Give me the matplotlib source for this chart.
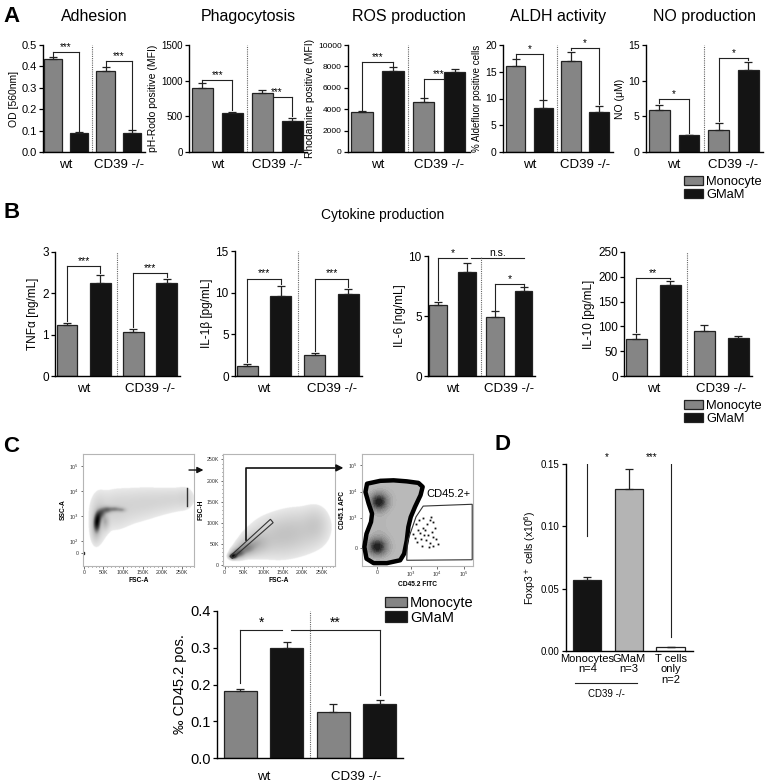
import numpy as np
import matplotlib
matplotlib.use("Agg")
import matplotlib.pyplot as plt
from matplotlib.patches import Patch, Polygon
from matplotlib.path import Path
from matplotlib.colors import LinearSegmentedColormap, PowerNorm
from matplotlib.ticker import MultipleLocator

plt.rcParams["font.family"] = ["Liberation Sans", "DejaVu Sans"]

W, H = 766, 782
MONO = "#858585"
GMAM = "#141414"
BAR_COLORS = [MONO, GMAM, MONO, GMAM]
GROUPS = ["wt", "CD39 -/-"]
SERIES = ["Monocyte", "GMaM"]

# bar order everywhere: wt Monocyte, wt GMaM, CD39-/- Monocyte, CD39-/- GMaM
# panel A
adhesion = [0.433, 0.089, 0.379, 0.089]
adhesion_err = [0.010, 0.003, 0.016, 0.012]
phago = [903, 551, 833, 435]
phago_err = [58, 10, 30, 42]
ros = [3750, 7580, 4630, 7520]
ros_err = [60, 340, 400, 250]
aldh = [16.1, 8.25, 17.1, 7.5]
aldh_err = [1.2, 1.4, 1.6, 1.1]
no_prod = [5.95, 2.35, 3.15, 11.45]
no_err = [0.7, 0.08, 0.95, 1.2]

# panel B
tnf = [1.24, 2.26, 1.06, 2.24]
tnf_err = [0.04, 0.18, 0.07, 0.10]
il1b = [1.2, 9.6, 2.55, 9.85]
il1b_err = [0.2, 1.2, 0.25, 0.65]
il6 = [5.88, 8.69, 4.93, 7.07]
il6_err = [0.3, 0.75, 0.45, 0.32]
il10 = [75, 183, 91, 77]
il10_err = [9, 9, 11, 4]

# panel C
cd452 = [0.183, 0.298, 0.125, 0.147]
cd452_err = [0.005, 0.018, 0.022, 0.011]

# panel D
foxp3_labels = ["Monocytes\nn=4", "GMaM\nn=3", "T cells\nonly\nn=2"]
foxp3 = [0.057, 0.130, 0.003]
foxp3_err = [0.002, 0.016, 0.0005]
foxp3_colors = [GMAM, "#b4b4b4", "white"]

# significance: (x1, x2, height, text, left leg, right leg)
# leg True -> from bar/error top, number -> from that value, None -> no leg
sig_adhesion = [(0, 1, 0.465, "***", True, True), (2, 3, 0.427, "***", True, True)]
sig_phago = [(0, 1, 1005, "***", True, True), (2, 3, 765, "***", True, True)]
sig_ros = [(0, 1, 8450, "***", True, True), (2, 3, 6800, "***", True, True)]
sig_aldh = [(0, 1, 18.3, "*", True, True), (2, 3, 19.4, "*", True, True)]
sig_no = [(0, 1, 7.4, "*", True, True), (2, 3, 13.2, "*", True, True)]
sig_tnf = [(0, 1, 2.65, "***", True, True), (2, 3, 2.48, "***", True, True)]
sig_il1b = [(0, 1, 11.7, "***", True, True), (2, 3, 11.7, "***", True, True)]
sig_il6 = [(0, 1, 9.8, "*", True, None), (1.15, 3, 9.8, "n.s.", None, None),
           (2, 3, 7.7, "*", True, True)]
sig_il10 = [(0, 1, 198, "**", True, True)]
sig_cd452 = [(0, 0.9, 0.349, "*", 0.205, None), (1.1, 3, 0.349, "**", None, 0.172)]
sig_foxp3 = [(0, 0.93, 0.1516, "*", 0.092, None), (1.1, 2, 0.1516, "***", None, 0.011)]

# flow plot density components: (x, y, sx, sy, weight)
fsc_ssc_blobs = [(33, 2.7, 5, 0.2, 1.0), (37, 2.95, 5, 0.15, 0.6), (45, 3.1, 6, 0.12, 0.45),
                 (58, 3.22, 8, 0.09, 0.45), (78, 3.25, 10, 0.07, 0.35), (97, 3.22, 7, 0.06, 0.22),
                 (55, 2.75, 6, 0.18, 0.2), (30, 2.45, 7, 0.3, 0.15), (38, 2.9, 12, 0.5, 0.12),
                 (75, 3.2, 28, 0.45, 0.07), (130, 3.4, 35, 0.4, 0.055), (185, 3.55, 35, 0.32, 0.05),
                 (235, 3.65, 28, 0.27, 0.045), (258, 3.7, 12, 0.25, 0.04)]
fsch_fsca_blobs = [(22, 20, 6, 4, 1.0), (35, 27, 10, 7, 0.5), (55, 38, 14, 10, 0.3),
                   (80, 50, 20, 15, 0.18), (130, 65, 40, 28, 0.1), (190, 80, 40, 30, 0.09),
                   (235, 95, 20, 25, 0.07)]
apc_fitc_blobs = [(1.79, 3.6, 0.22, 0.22, 1.0), (1.73, 1.87, 0.24, 0.22, 1.0), (1.9, 3.7, 0.45, 0.4, 0.3),
                  (1.85, 1.9, 0.45, 0.4, 0.3), (1.8, 2.75, 0.3, 0.45, 0.15)]
apc_fitc_outline = [(1.35, 4.30), (1.85, 4.41), (2.35, 4.43), (2.85, 4.39), (3.29, 4.33), (3.45, 4.18),
                    (3.37, 3.86), (3.16, 3.41), (3.0, 3.02), (2.91, 2.64), (2.85, 2.12), (2.75, 1.61),
                    (2.6, 1.36), (2.1, 1.25), (1.6, 1.25), (1.33, 1.42), (1.25, 1.87), (1.33, 2.38),
                    (1.5, 2.83), (1.54, 3.15), (1.41, 3.54), (1.29, 3.98)]
gate_fsc = [(14, 20), (20, 15), (125, 100), (118, 108)]
gate_cd452 = [(2.85, 1.36), (2.87, 2.06), (3.2, 3.03), (3.47, 3.44), (5.32, 3.51), (5.32, 1.38)]
cd452_events = [(3.29, 2.51), (3.35, 2.41), (3.45, 2.61), (3.50, 2.32), (3.60, 2.77), (3.73, 2.89),
                (3.85, 2.83), (3.91, 2.61), (3.38, 2.19), (3.58, 2.12), (3.73, 2.02), (3.83, 2.25),
                (4.04, 2.00), (3.23, 2.06), (3.41, 1.89), (3.16, 2.23), (3.70, 1.87), (3.85, 1.92),
                (3.10, 2.38), (3.54, 2.51), (3.66, 2.32), (3.79, 2.45), (3.20, 2.74), (3.33, 2.89),
                (3.97, 2.19), (3.47, 2.99), (3.75, 3.02)]

fig = plt.figure(figsize=(W / 100, H / 100), dpi=100)


def px_axes(x0, y0, x1, y1):
    return fig.add_axes([x0 / W, 1 - y1 / H, (x1 - x0) / W, (y1 - y0) / H])


def bracket(ax, means, errs, spec, fs, pad):
    x1, x2, h, text, l1, l2 = spec
    for x, leg in ((x1, l1), (x2, l2)):
        if leg is None:
            continue
        if leg is True:
            i = int(round(x))
            base = means[i] + errs[i] + pad
        else:
            base = leg
        if base < h:
            ax.plot([x, x], [base, h], color="#222", lw=0.8, zorder=1)
    ax.plot([x1, x2], [h, h], color="#222", lw=0.8, zorder=1)
    ax.text((x1 + x2) / 2, h, text, ha="center", va="bottom", fontsize=fs, zorder=4)


def bar_panel(ax, means, errs, ymax, ystep, ylabel, sigs, colors=BAR_COLORS, width=0.7,
              xlim=(-0.45, 3.5), tick_fs=7.5, label_fs=7.5, group_fs=9.5, sig_fs=7,
              fmt="{:g}", sep=True):
    x = np.arange(len(means))
    ax.bar(x, means, width=width, color=colors, edgecolor="#222", linewidth=0.9, zorder=2)
    ax.errorbar(x, means, yerr=[np.zeros(len(errs)), errs], fmt="none", ecolor="#222",
                elinewidth=0.9, capsize=3.2, capthick=0.9, zorder=3)
    for s in sigs:
        bracket(ax, means, errs, s, sig_fs, ymax * 0.015)
    if sep:
        ax.axvline(1.5, color="#666", ls=(0, (1, 1)), lw=0.8, zorder=1)
    ax.set_xlim(*xlim)
    ax.set_ylim(0, ymax)
    ticks = np.arange(0, ymax + ystep / 2, ystep)
    ax.set_yticks(ticks)
    ax.set_yticklabels([fmt.format(t) for t in ticks], fontsize=tick_fs)
    ax.set_ylabel(ylabel, fontsize=label_fs, labelpad=2)
    ax.set_xticks([0.5, 2.5])
    ax.set_xticklabels(GROUPS, fontsize=group_fs)
    ax.tick_params(axis="x", length=0, pad=5)
    ax.tick_params(axis="y", length=3, width=0.9, pad=1.5)
    for side in ("top", "right"):
        ax.spines[side].set_visible(False)
    for side in ("left", "bottom"):
        ax.spines[side].set_linewidth(1.0)


# ---------------- panel A ----------------
axA = [px_axes(43, 45, 145, 152), px_axes(189, 45, 307, 152), px_axes(348, 45, 470, 152),
       px_axes(503, 45, 613, 152), px_axes(646, 45, 763, 152)]
bar_panel(axA[0], adhesion, adhesion_err, 0.5, 0.1, "OD [560nm]", sig_adhesion,
          xlim=(-0.38, 3.5), fmt="{:.1f}", tick_fs=8)
bar_panel(axA[1], phago, phago_err, 1500, 500, "pH-Rodo positive (MFI)", sig_phago, tick_fs=7)
bar_panel(axA[2], ros, ros_err, 10000, 2000, "Rhodamine positive (MFI)", sig_ros, tick_fs=6)
bar_panel(axA[3], aldh, aldh_err, 20, 5, "% Aldefluor positive cells", sig_aldh, tick_fs=7.5,
          label_fs=7)
bar_panel(axA[4], no_prod, no_err, 15, 5, "NO (\u03bcM)", sig_no, tick_fs=7.5)
for ax, t in zip(axA, ["Adhesion", "Phagocytosis", "ROS production", "ALDH activity", "NO production"]):
    ax.set_title(t, fontsize=11.5, pad=17)

# ---------------- panel B ----------------
axB = [px_axes(55, 252, 180, 376), px_axes(235, 251, 362, 376), px_axes(428, 256, 535, 376),
       px_axes(624, 252, 752, 376)]
for ax, m, e, top, step, lab, sg in [
        (axB[0], tnf, tnf_err, 3, 1, "TNF\u03b1 [ng/mL]", sig_tnf),
        (axB[1], il1b, il1b_err, 15, 5, "IL-1\u03b2 [pg/mL]", sig_il1b),
        (axB[2], il6, il6_err, 10, 5, "IL-6 [ng/mL]", sig_il6),
        (axB[3], il10, il10_err, 250, 50, "IL-10 [pg/mL]", sig_il10)]:
    bar_panel(ax, m, e, top, step, lab, sg, width=0.62, xlim=(-0.36, 3.4), tick_fs=8.5,
              label_fs=8.5, group_fs=9.5, sig_fs=7.5)
fig.text(383 / W, 1 - 215 / H, "Cytokine production", ha="center", va="center", fontsize=10)

# ---------------- panel C flow plots ----------------
FLOW_CMAP = LinearSegmentedColormap.from_list("flow", ["#ececec", "#b8b8b8", "#505050", "#000000"])
FLOW_CMAP.set_bad("white")


def density(xs, ys, blobs):
    X, Y = np.meshgrid(xs, ys)
    d = np.zeros_like(X)
    for cx, cy, sx, sy, w in blobs:
        d += w * np.exp(-0.5 * (((X - cx) / sx) ** 2 + ((Y - cy) / sy) ** 2))
    return d / d.max()


def show_density(ax, xs, ys, d, thr, gamma, cmap=FLOW_CMAP):
    return ax.imshow(np.ma.masked_less(d, thr), extent=[xs[0], xs[-1], ys[0], ys[-1]],
                     origin="lower", aspect="auto", cmap=cmap,
                     norm=PowerNorm(gamma, vmin=thr, vmax=1), interpolation="bilinear")


def flow_axes(ax, xlabel, ylabel):
    for s in ax.spines.values():
        s.set_color("#b5b5b5")
        s.set_linewidth(0.8)
    ax.tick_params(labelsize=3.8, length=1.8, width=0.5, pad=1, colors="#333")
    ax.tick_params(which="minor", length=1, width=0.4)
    ax.set_xlabel(xlabel, fontsize=4.8, fontweight="bold", labelpad=1.5)
    ax.set_ylabel(ylabel, fontsize=4.8, fontweight="bold", labelpad=1.5)


K_TICKS = [0, 50, 100, 150, 200, 250]
K_LABELS = ["0", "50K", "100K", "150K", "200K", "250K"]

f1 = px_axes(83, 454, 194, 566)
xs = np.linspace(-2, 281, 300)
ys = np.linspace(1.0, 5.47, 300)
show_density(f1, xs, ys, density(xs, ys, fsc_ssc_blobs), 0.012, 0.6)
f1.plot([262, 262], [3.4, 4.1], color="#333", lw=1.0)
f1.plot([-1], [1.53], "s", color="#222", ms=2)
f1.set_xlim(xs[0], xs[-1])
f1.set_ylim(ys[0], ys[-1])
f1.set_xticks(K_TICKS)
f1.set_xticklabels(K_LABELS)
f1.xaxis.set_minor_locator(MultipleLocator(10))
f1.set_yticks([1.53, 2, 3, 4, 5])
f1.set_yticklabels(["0", "10$^2$", "10$^3$", "10$^4$", "10$^5$"])
flow_axes(f1, "FSC-A", "SSC-A")
f1.annotate("", xy=(1.11, 0.857), xytext=(0.93, 0.857), xycoords="axes fraction",
            arrowprops=dict(arrowstyle="-|>", color="#111", lw=1.0, mutation_scale=9))

f2 = px_axes(223, 454, 335, 566)
xs = np.linspace(-4, 284, 300)
ys = np.linspace(-3, 263, 300)
show_density(f2, xs, ys, density(xs, ys, fsch_fsca_blobs), 0.015, 0.6)
f2.add_patch(Polygon(gate_fsc, closed=True, fill=False, ec="#333", lw=0.8))
f2.plot([55, 55, 284], [58, 230, 230], color="#111", lw=1.2, clip_on=False)
f2.annotate("", xy=(1.1, 0.876), xytext=(0.99, 0.876), xycoords="axes fraction",
            arrowprops=dict(arrowstyle="-|>", color="#111", lw=1.2, mutation_scale=10))
f2.set_xlim(xs[0], xs[-1])
f2.set_ylim(ys[0], ys[-1])
f2.set_xticks(K_TICKS)
f2.set_xticklabels(K_LABELS)
f2.set_yticks(K_TICKS)
f2.set_yticklabels(K_LABELS)
f2.xaxis.set_minor_locator(MultipleLocator(10))
f2.yaxis.set_minor_locator(MultipleLocator(10))
flow_axes(f2, "FSC-A", "FSC-H")

f3 = px_axes(362, 454, 473, 566)
xs = np.linspace(1.16, 5.35, 300)
ys = np.linspace(1.14, 5.44, 300)
# light grey body inside the black outline, darker cores as filled contours
f3.add_patch(Polygon(apc_fitc_outline, closed=True, fc="#b9b9b9", ec="none", zorder=1))
core_cmap = LinearSegmentedColormap.from_list("core", ["#b9b9b9", "#7a7a7a", "#1c1c1c"])
d3 = density(xs, ys, apc_fitc_blobs)
GX, GY = np.meshgrid(xs, ys)
inside = Path(apc_fitc_outline).contains_points(np.column_stack([GX.ravel(), GY.ravel()]))
d3 = np.ma.masked_array(d3, mask=~inside.reshape(d3.shape))
f3.contourf(xs, ys, d3, levels=np.linspace(0.12, 1.0, 14), cmap=core_cmap, zorder=2)
f3.add_patch(Polygon(apc_fitc_outline, closed=True, fill=False, ec="#000", lw=3.2,
                     joinstyle="round", zorder=3))
ex, ey = zip(*cd452_events)
f3.plot(ex, ey, "s", color="#111", ms=1.3, mew=0, zorder=3)
f3.add_patch(Polygon(gate_cd452, closed=True, fill=False, ec="#333", lw=0.8, zorder=3))
f3.text(3.6, 3.72, "CD45.2+", fontsize=8, ha="left", va="bottom")
f3.set_xlim(xs[0], xs[-1])
f3.set_ylim(ys[0], ys[-1])
f3.set_xticks([1.725, 3, 4, 5])
f3.set_xticklabels(["0", "10$^3$", "10$^4$", "10$^5$"])
f3.set_yticks([1.83, 3, 4, 5])
f3.set_yticklabels(["0", "10$^3$", "10$^4$", "10$^5$"])
flow_axes(f3, "CD45.2 FITC", "CD45.1 APC")

# ---------------- panel C bars ----------------
axC = px_axes(217, 611, 403, 758)
bar_panel(axC, cd452, cd452_err, 0.4, 0.1, "\u2030 CD45.2 pos.", sig_cd452, xlim=(-0.5, 3.5),
          tick_fs=10.5, label_fs=10.5, group_fs=9.5, sig_fs=10, fmt="{:.1f}")
axC.tick_params(axis="x", pad=9)

# ---------------- panel D ----------------
axD = px_axes(566, 464, 693, 651)
bar_panel(axD, foxp3, foxp3_err, 0.15, 0.05, "Foxp3$^+$ cells (x10$^6$)", sig_foxp3,
          colors=foxp3_colors, width=0.68, xlim=(-0.51, 2.54), tick_fs=7, label_fs=7.5,
          sig_fs=7, fmt="{:.2f}", sep=False)
axD.set_xticks([0, 1, 2])
axD.set_xticklabels(foxp3_labels, fontsize=8, linespacing=1.05, va="top")
axD.tick_params(axis="x", pad=2)
axD.plot([-0.29, 1.2], [-0.171, -0.171], color="#222", lw=0.8, clip_on=False,
         transform=axD.get_xaxis_transform())
axD.text(0.45, -0.228, "CD39 -/-", fontsize=7, ha="center", va="center",
         transform=axD.get_xaxis_transform())

# legends
handles = [Patch(facecolor=MONO, edgecolor="#222", lw=0.9), Patch(facecolor=GMAM, edgecolor="#222", lw=0.9)]
for (lx, ly, fs) in [(684, 176, 9.3), (684, 400, 9.3), (385, 596, 10.5)]:
    fig.legend(handles, SERIES, loc="upper left", bbox_to_anchor=(lx / W, 1 - ly / H), frameon=False,
               fontsize=fs, handlelength=1.5, handleheight=0.75, handletextpad=0.2,
               labelspacing=0.05, borderpad=0, borderaxespad=0)

# panel letters
for t, x, y in [("A", 12, 17), ("B", 12, 213), ("C", 11, 446), ("D", 503, 444)]:
    fig.text(x / W, 1 - y / H, t, fontsize=16, fontweight="bold", ha="center", va="center")

fig.savefig("out.png", dpi=100)
